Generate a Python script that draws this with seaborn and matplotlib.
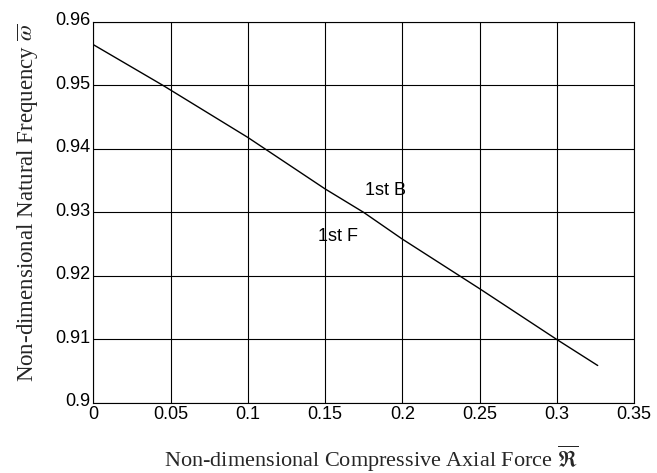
import numpy as np
import pandas as pd
import matplotlib
matplotlib.use("Agg")
import matplotlib.pyplot as plt
import matplotlib.transforms as mtransforms
import seaborn as sns

# 데이터
axial_force = [0.0, 0.045, 0.1, 0.15, 0.175, 0.2, 0.25, 0.3, 0.3265]
frequency = [0.9564, 0.9500, 0.9418, 0.9337, 0.9300, 0.9258, 0.9180, 0.9100, 0.9059]
x_ticks = [0, 0.05, 0.1, 0.15, 0.2, 0.25, 0.3, 0.35]
y_ticks = [0.9, 0.91, 0.92, 0.93, 0.94, 0.95, 0.96]
x_tick_labels = ['0', '0.05', '0.1', '0.15', '0.2', '0.25', '0.3', '0.35']
y_tick_labels = ['0.9', '0.91', '0.92', '0.93', '0.94', '0.95', '0.96']
mode_labels = ['1st B', '1st F']
mode_pos_x = [0.1759, 0.1452]
mode_pos_y = [0.9334, 0.9262]

df = pd.DataFrame({'force': axial_force, 'freq': frequency})

sns.set_style('white')
plt.rcParams['font.family'] = ['Liberation Sans', 'DejaVu Sans']
plt.rcParams['mathtext.fontset'] = 'stix'

fig = plt.figure(figsize=(6.57, 4.73), dpi=100)
ax = fig.add_axes([0.142, 0.148, 0.823, 0.806])

sns.lineplot(data=df, x='force', y='freq', color='black', linewidth=1.0, ax=ax)

# 모드 라벨
for lab, lx, ly in zip(mode_labels, mode_pos_x, mode_pos_y):
    ax.text(lx, ly, lab, fontsize=13, va='center', ha='left', color='black')

ax.set_xlim(0, 0.35)
ax.set_ylim(0.9, 0.96)
ax.set_xticks(x_ticks)
ax.set_xticklabels(x_tick_labels, fontsize=13)
ax.set_yticks(y_ticks)
ax.set_yticklabels(y_tick_labels, fontsize=13)
ax.tick_params(axis='both', length=0, pad=2, colors='black')

# y 눈금 라벨을 살짝 위로
shift = mtransforms.ScaledTranslation(0, 3 / 100, fig.dpi_scale_trans)
for t in ax.get_yticklabels():
    t.set_transform(t.get_transform() + shift)

ax.grid(True, color='black', linewidth=0.8)
for s in ax.spines.values():
    s.set_color('black')
    s.set_linewidth(0.8)

ax.set_xlabel(r'Non-dimensional Compressive Axial Force $\overline{\Re}$',
              fontsize=16, family='Liberation Serif')
ax.set_ylabel(r'Non-dimensional Natural Frequency $\overline{\omega}$',
              fontsize=16.5, family='Liberation Serif')
ax.xaxis.set_label_coords(0.514, -0.107)
ax.yaxis.set_label_coords(-0.099, 0.525)

fig.savefig('out.png', dpi=100)
